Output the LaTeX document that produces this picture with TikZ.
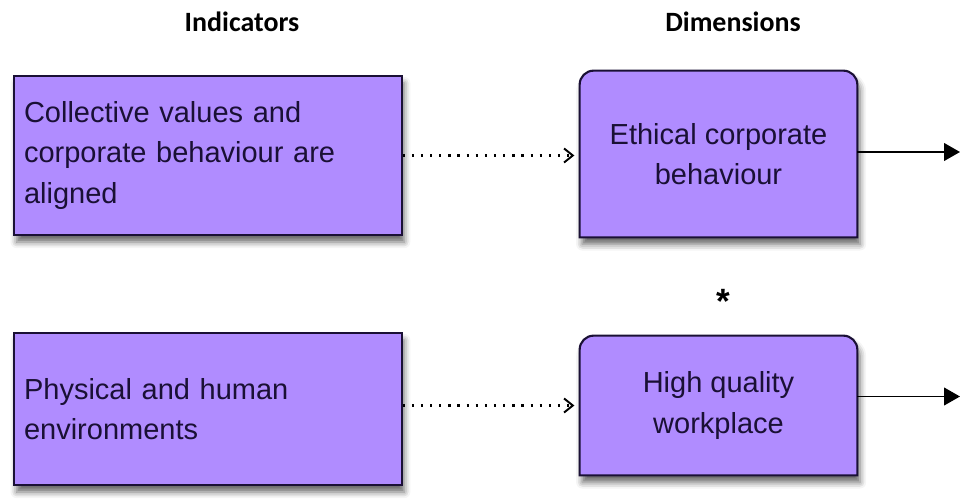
\documentclass[tikz,border=0pt]{standalone}
\usepackage{fontspec}
\setmainfont{Liberation Sans}
\newfontfamily\headfont{Carlito}
\usepackage{xcolor}
\usetikzlibrary{arrows.meta,positioning,backgrounds,shadows.blur}
\definecolor{boxviolet}{HTML}{B08CFF}
\definecolor{boxline}{HTML}{1A1035}

\begin{document}
\begin{tikzpicture}[
            head/.style={font=\headfont\bfseries\fontsize{15.9}{19}\selectfont, anchor=base},
            frame/.style={draw=boxline, line width=1.2pt, fill=boxviolet,
                 blur shadow={shadow xshift=1.5pt, shadow yshift=-4pt, shadow blur radius=3.5pt, shadow opacity=60}},
            ind/.style={frame, rectangle, anchor=west, text width=7.35cm, inner xsep=0.2cm, align=left,
                 text=boxline, font=\fontsize{16.5}{22.8}\selectfont},
            dim/.style={minimum width=5.54cm, align=center, text=boxline, font=\fontsize{16.5}{22.8}\selectfont},
            link/.style={line width=1.3pt, dash pattern=on 1.3pt off 3.9pt, shorten >=3pt,
                 -{Straight Barb[length=5pt,width=8pt,line width=1.1pt]}},
            exit/.style={line width=1pt, -{Triangle[length=9pt,width=10pt]}}
            ]
            \useasboundingbox (0,0) rectangle (19.2,10);

            % Column headings
            \node[head] (hind) at (4.84,9.36) {Indicators};
            \node[head] (hdim) at (14.66,9.36) {Dimensions};

            % Indicator boxes
            \node[ind, minimum height=3.18cm] (ind1) at (0.26,6.89) {Collective values and\\corporate behaviour are\\aligned};
            \node[ind, minimum height=3.04cm] (ind2) at (0.26,1.82) {Physical and human\\environments};

            % Dimension boxes (rounded on top only)
            \node[dim, minimum height=3.32cm] (dim1) at (14.37,6.92) {Ethical corporate\\behaviour};
            \node[dim, minimum height=2.78cm] (dim2) at (14.37,1.89) {High quality\\workplace};
            \begin{scope}[on background layer]
              \foreach \d in {dim1,dim2}
                \draw[frame] (\d.south west) -- ([yshift=-0.28cm]\d.north west)
                  arc[start angle=180, end angle=90, radius=0.28cm] -- ([xshift=-0.28cm]\d.north east)
                  arc[start angle=90, end angle=0, radius=0.28cm] -- (\d.south east) -- cycle;
            \end{scope}

            \node[font=\bfseries\fontsize{20}{24}\selectfont, anchor=base] (star) at (14.46,3.72) {*};

            % Outgoing ends at the right border
            \coordinate (out1) at (19.2,6.96);
            \coordinate (out2) at (19.2,2.07);

            % Arrows
            \draw[link] (ind1.east) -- (ind1.east -| dim1.west);
            \draw[link] (ind2.east |- dim2.west) -- (dim2.west);
            \draw[exit] (dim1.east |- out1) -- (out1);
            \draw[exit] (dim2.east |- out2) -- (out2);
\end{tikzpicture}
\end{document}
